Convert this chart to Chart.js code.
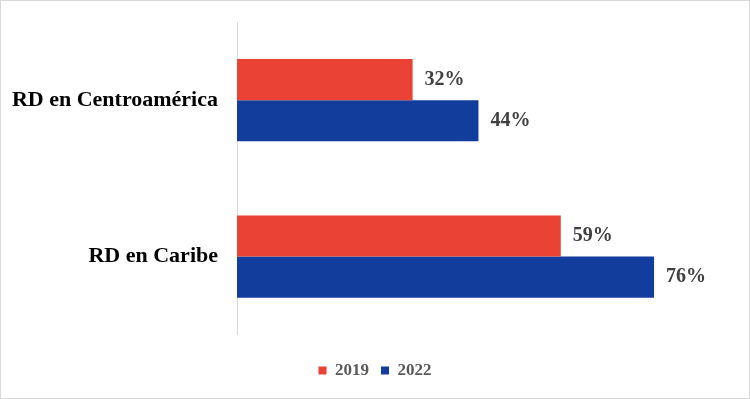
<!DOCTYPE html>
<html>
<head>
<meta charset="utf-8">
<script src="https://cdn.jsdelivr.net/npm/chart.js@4"></script>
<style>
  body { margin: 0; background: #fff; }
  .box { width: 750px; height: 399px; box-sizing: border-box; border: 1px solid #d9d9d9; }
</style>
</head>
<body>
<div class="box"><canvas id="chart"></canvas></div>
<script>
const categories = ['RD en Centroamérica', 'RD en Caribe'];
const values2019 = [32, 59];
const values2022 = [44, 76];
const seriesNames = ['2019', '2022'];

// etiquetas de valor al final de cada barra
const valueLabels = {
  id: 'valueLabels',
  afterDatasetsDraw(chart) {
    const ctx = chart.ctx;
    ctx.save();
    ctx.font = 'bold 20px "Liberation Serif", serif';
    ctx.fillStyle = '#404040';
    ctx.textAlign = 'left';
    ctx.textBaseline = 'middle';
    chart.data.datasets.forEach((ds, i) => {
      chart.getDatasetMeta(i).data.forEach((bar, j) => {
        ctx.fillText(ds.data[j] + '%', bar.x + 12, bar.y);
      });
    });
    ctx.restore();
  }
};

new Chart(document.getElementById('chart'), {
  type: 'bar',
  data: {
    labels: categories,
    datasets: [
      { label: seriesNames[0], data: values2019, backgroundColor: '#EA4335' },
      { label: seriesNames[1], data: values2022, backgroundColor: '#133D9C' },
    ],
  },
  options: {
    indexAxis: 'y',
    responsive: true,
    maintainAspectRatio: false,
    animation: false,
    barPercentage: 1,
    categoryPercentage: 0.526,
    layout: { padding: { top: 21, right: 0, bottom: 9, left: 0 } },
    plugins: {
      tooltip: { enabled: false },
      legend: {
        position: 'bottom',
        // título vacío solo para separar la leyenda del gráfico
        title: { display: true, text: '', font: { size: 1 }, padding: { top: 0, bottom: 14 } },
        labels: {
          boxWidth: 8,
          boxHeight: 8,
          padding: 12,
          color: '#595959',
          font: { family: '"Liberation Serif", serif', size: 17, weight: 'bold' },
        },
      },
    },
    scales: {
      // eje oculto; el máximo mantiene la escala de las barras como en la imagen
      x: { display: false, min: 0, max: 93.3 },
      y: {
        afterFit(scale) {
          scale.width = 236;
          scale.paddingTop = 0;
          scale.paddingBottom = 0;
        },
        grid: { display: false },
        border: { display: true, color: '#d9d9d9', width: 1 },
        ticks: {
          color: '#000',
          padding: 11,
          font: { family: '"Liberation Serif", serif', size: 22, weight: 'bold' },
        },
      },
    },
  },
  plugins: [valueLabels],
});
</script>
</body>
</html>
